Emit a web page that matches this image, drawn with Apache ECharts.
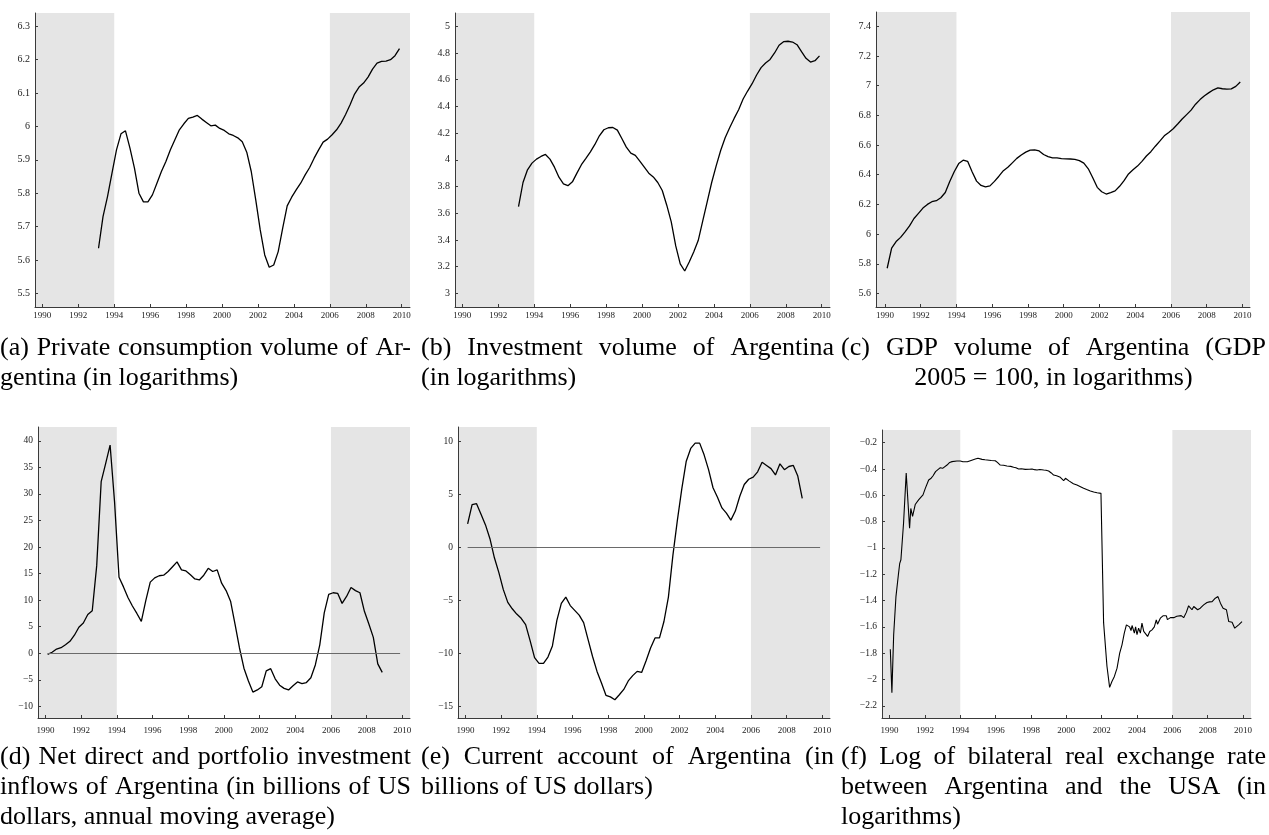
<!DOCTYPE html>
<html><head><meta charset="utf-8">
<script src="https://cdn.jsdelivr.net/npm/echarts@6/dist/echarts.min.js"></script>
<style>html,body{margin:0;padding:0;background:#fff;}#main{width:1269px;height:835px;}</style>
</head><body><div id="main"></div>
<script>
// ---------- DATA ----------
const xTickYears = [1990,1992,1994,1996,1998,2000,2002,2004,2006,2008,2010];
const shadedEnd1 = 1994;   // shaded: start of axis .. 1994
const shadedStart2 = 2006; // shaded: 2006 .. end of axis

// (a) private consumption, quarterly from 1993Q1
const consumptionStartYear = 1993;
const consumption = [5.635,5.73,5.79,5.86, 5.93,5.978,5.987,5.935, 5.875,5.80,5.774,5.774,
  5.795,5.83,5.865,5.895, 5.93,5.96,5.99,6.008, 6.024,6.028,6.033,6.022, 6.012,6.002,6.004,5.994,
  5.988,5.978,5.973,5.966, 5.954,5.923,5.865,5.78, 5.69,5.615,5.578,5.585, 5.625,5.695,5.762,5.788,
  5.81,5.83,5.855,5.877, 5.905,5.93,5.953,5.962, 5.975,5.99,6.01,6.036, 6.065,6.097,6.118,6.13,
  6.148,6.172,6.19,6.195, 6.196,6.2,6.212,6.233];
const yTicksA = [5.5,5.6,5.7,5.8,5.9,6,6.1,6.2,6.3];

// (b) investment, quarterly from 1993Q1
const investmentStartYear = 1993;
const investment = [3.65,3.83,3.925,3.975, 4.005,4.025,4.04,4.005, 3.945,3.87,3.82,3.806,
  3.835,3.9,3.963,4.01, 4.06,4.115,4.18,4.225, 4.24,4.242,4.222,4.16, 4.095,4.05,4.033,3.99,
  3.945,3.9,3.872,3.83, 3.77,3.66,3.535,3.355, 3.22,3.167,3.235,3.31, 3.395,3.54,3.685,3.83,
  3.955,4.07,4.165,4.24, 4.31,4.375,4.455,4.515, 4.57,4.635,4.69,4.725, 4.752,4.8,4.858,4.885,
  4.888,4.882,4.862,4.81, 4.76,4.732,4.742,4.778];
const yTicksB = [3,3.2,3.4,3.6,3.8,4,4.2,4.4,4.6,4.8,5];

// (c) GDP volume, quarterly from 1990Q1
const gdpStartYear = 1990;
const gdp = [5.77,5.905,5.95,5.978, 6.015,6.055,6.105,6.14, 6.175,6.2,6.218,6.225,
  6.245,6.28,6.355,6.42, 6.475,6.498,6.49,6.42, 6.357,6.328,6.318,6.325, 6.355,6.39,6.427,6.45,
  6.48,6.51,6.533,6.552, 6.566,6.568,6.56,6.536, 6.522,6.514,6.514,6.509, 6.507,6.506,6.504,6.495,
  6.478,6.44,6.38,6.315, 6.285,6.27,6.28,6.291, 6.322,6.36,6.405,6.433, 6.458,6.49,6.526,6.555,
  6.592,6.626,6.662,6.685, 6.71,6.742,6.775,6.805, 6.835,6.875,6.906,6.932, 6.953,6.972,6.985,6.979,
  6.976,6.978,6.995,7.025];
const yTicksC = [5.6,5.8,6,6.2,6.4,6.6,6.8,7,7.2,7.4];

// (d) net direct and portfolio investment inflows, quarterly from 1990Q1
const inflowsStartYear = 1990;
const inflows = [-0.2,0.2,0.8,1.05, 1.6,2.25,3.4,4.9, 5.7,7.3,8.0,16.5, 32.3,35.7,39.2,28.5,
  14.3,12.5,10.5,8.9, 7.5,6.0,9.9,13.4, 14.2,14.6,14.7,15.4, 16.3,17.2,15.7,15.5,
  14.8,14.0,13.8,14.7, 16.0,15.4,15.7,13.2, 11.8,9.8,5.5,1.0, -2.8,-5.2,-7.3,-6.9,
  -6.3,-3.3,-2.9,-4.8, -6.0,-6.6,-6.9,-6.1, -5.4,-5.7,-5.5,-4.6, -2.2,1.6,7.6,11.1,
  11.4,11.3,9.4,10.7, 12.4,11.8,11.4,7.9, 5.5,3.0,-2.0,-3.6];
const yTicksD = [-10,-5,0,5,10,15,20,25,30,35,40];

// (e) current account, quarterly from 1990Q1
const currentAccountStartYear = 1990;
const currentAccount = [2.2,4.0,4.1,3.1, 2.1,0.8,-1.0,-2.4, -4.0,-5.2,-5.8,-6.3, -6.7,-7.3,-8.8,-10.4,
  -10.95,-10.95,-10.35,-9.3, -6.9,-5.3,-4.7,-5.5, -5.95,-6.4,-7.1,-8.7, -10.3,-11.7,-12.8,-13.95,
  -14.1,-14.37,-13.9,-13.4, -12.6,-12.1,-11.7,-11.8, -10.7,-9.5,-8.55,-8.55, -7.0,-4.7,-0.8,2.5,
  5.5,8.1,9.3,9.8, 9.8,8.7,7.3,5.6, 4.7,3.7,3.2,2.55, 3.4,4.8,5.9,6.4,
  6.6,7.1,8.0,7.7, 7.4,6.8,7.85,7.3, 7.6,7.7,6.7,4.6];
const yTicksE = [-15,-10,-5,0,5,10];

// zero reference line span (d), (e)
const zeroLineFrom = 1990.125, zeroLineTo = 2009.875;

// (f) log bilateral real exchange rate (dates, values)
const rerYears = [1990.04,1990.13,1990.23,1990.36,1990.5,1990.57,1990.64,1990.79,1990.94,1991.13,1991.2,1991.3,1991.45,1991.64,1991.89,
  1992.02,1992.21,1992.35,1992.45,1992.6,1992.68,1992.87,1993.0,1993.09,1993.25,1993.4,1993.53,1993.81,1994.0,1994.15,1994.23,1994.4,1994.57,1994.85,
  1995.0,1995.09,1995.23,1995.4,1995.51,1995.75,1995.98,1996.1,1996.26,1996.45,1996.64,1996.85,1997.02,1997.15,1997.3,1997.45,1997.55,1997.68,1997.9,
  1998.06,1998.2,1998.34,1998.5,1998.72,1998.85,1999.0,1999.15,1999.28,1999.45,1999.66,1999.75,1999.85,1999.95,2000.04,2000.15,2000.23,2000.4,2000.6,2000.8,2000.98,
  2001.15,2001.36,2001.55,2001.74,2001.96,2002.04,2002.11,2002.3,2002.45,2002.58,2002.72,2002.87,2003.02,2003.15,2003.28,2003.4,2003.47,2003.58,2003.66,2003.72,2003.77,2003.85,2003.92,
  2004.0,2004.09,2004.19,2004.28,2004.38,2004.47,2004.6,2004.72,2004.85,2004.98,2005.09,2005.16,2005.23,2005.32,2005.47,2005.66,2005.72,2005.79,2005.89,
  2006.08,2006.25,2006.36,2006.5,2006.64,2006.79,2006.92,2007.02,2007.11,2007.21,2007.3,2007.43,2007.58,2007.77,2007.96,2008.1,2008.25,2008.43,2008.58,2008.72,2008.87,
  2009.06,2009.19,2009.38,2009.53,2009.75,2009.94];
const rerValues = [-1.77,-2.10,-1.66,-1.37,-1.20,-1.12,-1.09,-0.81,-0.43,-0.85,-0.70,-0.76,-0.67,-0.635,-0.597,
  -0.547,-0.484,-0.47,-0.453,-0.42,-0.408,-0.39,-0.395,-0.40,-0.37,-0.35,-0.344,-0.339,-0.339,-0.345,-0.352,-0.345,-0.337,-0.324,
  -0.318,-0.312,-0.327,-0.33,-0.332,-0.335,-0.337,-0.35,-0.37,-0.372,-0.377,-0.38,-0.387,-0.39,-0.40,-0.398,-0.395,-0.403,-0.402,
  -0.40,-0.405,-0.408,-0.404,-0.408,-0.41,-0.415,-0.43,-0.446,-0.452,-0.463,-0.475,-0.489,-0.47,-0.471,-0.49,-0.504,-0.512,-0.522,-0.535,-0.547,
  -0.556,-0.567,-0.575,-0.58,-0.585,-0.59,-1.57,-1.90,-2.06,-2.015,-1.977,-1.914,-1.80,-1.737,-1.648,-1.585,-1.59,-1.60,-1.628,-1.59,-1.585,-1.648,-1.60,
  -1.66,-1.61,-1.648,-1.572,-1.635,-1.648,-1.673,-1.635,-1.623,-1.60,-1.547,-1.58,-1.572,-1.534,-1.516,-1.516,-1.545,-1.547,-1.53,
  -1.53,-1.52,-1.52,-1.515,-1.53,-1.49,-1.44,-1.433,-1.47,-1.445,-1.44,-1.47,-1.458,-1.433,-1.415,-1.41,-1.408,-1.382,-1.37,-1.42,-1.458,
  -1.47,-1.56,-1.565,-1.61,-1.585,-1.56];
const yTicksF = [-2.2,-2,-1.8,-1.6,-1.4,-1.2,-1,-0.8,-0.6,-0.4,-0.2];

const captionA = ["(a) Private consumption volume of Ar-", "gentina (in logarithms)"];
const captionB = ["(b) Investment volume of Argentina", "(in logarithms)"];
const captionC = ["(c) GDP volume of Argentina (GDP", "2005 = 100, in logarithms)"];
const captionD = ["(d) Net direct and portfolio investment", "inflows of Argentina (in billions of US", "dollars, annual moving average)"];
const captionE = ["(e) Current account of Argentina (in", "billions of US dollars)"];
const captionF = ["(f) Log of bilateral real exchange rate", "between Argentina and the USA (in", "logarithms)"];

// ---------- LAYOUT ----------
const FONT = '"Liberation Serif", "Times New Roman", serif';
function quarterly(start, vals){ return vals.map((v,i)=>[start + (i+0.5)/4, v]); }
function pairs(xs, ys){ return xs.map((x,i)=>[x, ys[i]]); }

const panels = [
  {grid:{left:35,top:13,width:375,height:294}, xr:[1989.59,2010.46], yr:[5.459,6.34], yt:yTicksA, data:quarterly(consumptionStartYear,consumption), xm:4.5, yfs:10},
  {grid:{left:455,top:13,width:375,height:294}, xr:[1989.59,2010.46], yr:[2.8975,5.0995], yt:yTicksB, data:quarterly(investmentStartYear,investment), xm:4.5, yfs:10},
  {grid:{left:876,top:12,width:374,height:295}, xr:[1989.5,2010.42], yr:[5.509,7.496], yt:yTicksC, data:quarterly(gdpStartYear,gdp), xm:4.5, yfs:10},
  {grid:{left:38,top:427,width:372,height:291}, xr:[1989.585,2010.43], yr:[-12.18,42.6], yt:yTicksD, data:quarterly(inflowsStartYear,inflows), xm:8, yfs:9.5, zero:true},
  {grid:{left:458,top:427,width:372,height:291}, xr:[1989.585,2010.43], yr:[-16.09,11.32], yt:yTicksE, data:quarterly(currentAccountStartYear,currentAccount), xm:8, yfs:9.5, zero:true},
  {grid:{left:882,top:430,width:369,height:288}, xr:[1989.57,2010.45], yr:[-2.293,-0.1035], yt:yTicksF, data:pairs(rerYears,rerValues), xm:8, yfs:9.5, lw:1.1}
];

const fmt = v => { const s = String(+(+v).toFixed(2)); return s.replace('-', '\u2212'); };
const axisColor = '#3a3a3a';
const grids=[], xAxes=[], yAxes=[], series=[];
panels.forEach((p,i)=>{
  grids.push(Object.assign({containLabel:false}, p.grid));
  xAxes.push({type:'value', gridIndex:i, min:p.xr[0], max:p.xr[1], z:5,
    axisLine:{show:true, onZero:false, lineStyle:{color:axisColor,width:1}},
    axisTick:{show:true, inside:true, length:3, customValues:xTickYears, lineStyle:{color:axisColor}},
    axisLabel:{show:true, customValues:xTickYears, fontFamily:FONT, fontSize:9, color:'#222', margin:p.xm, formatter:v=>String(Math.round(v))},
    splitLine:{show:false}});
  yAxes.push({type:'value', gridIndex:i, min:p.yr[0], max:p.yr[1], z:5,
    axisLine:{show:true, onZero:false, lineStyle:{color:axisColor,width:1}},
    axisTick:{show:true, inside:true, length:3, customValues:p.yt, lineStyle:{color:axisColor}},
    axisLabel:{show:true, customValues:p.yt, fontFamily:FONT, fontSize:p.yfs, color:'#222', margin:5, formatter:fmt},
    splitLine:{show:false}});
  const s = {type:'line', xAxisIndex:i, yAxisIndex:i, data:p.data, showSymbol:false, symbol:'none',
    lineStyle:{color:'#000', width:p.lw||1.3}, z:3, silent:true,
    markArea:{silent:true, itemStyle:{color:'#e5e5e5'}, data:[
      [{xAxis:p.xr[0]},{xAxis:shadedEnd1}],
      [{xAxis:shadedStart2},{xAxis:p.xr[1]}]
    ]}};
  if (p.zero) {
    s.markLine = {silent:true, symbol:['none','none'], label:{show:false},
      lineStyle:{color:'#6a6a6a', width:1, type:'solid'},
      data:[[{coord:[zeroLineFrom,0]},{coord:[zeroLineTo,0]}]]};
  }
  series.push(s);
});

// captions (justified except last line)
const capFontSize = 26;
const capFont = capFontSize + 'px ' + FONT;
const ctx = document.createElement('canvas').getContext('2d');
ctx.font = capFont;
const capBlocks = [
  {lines:captionA, x:0, w:411, y:[348,378]},
  {lines:captionB, x:421, w:413, y:[348,378]},
  {lines:captionC, x:841, w:425, y:[348,378], centerLast:true},
  {lines:captionD, x:0, w:411, y:[757,787,817]},
  {lines:captionE, x:421, w:413, y:[757,787]},
  {lines:captionF, x:841, w:425, y:[757,787,817]}
];
const graphics=[];
capBlocks.forEach(b=>{
  b.lines.forEach((line,li)=>{
    const last = li===b.lines.length-1;
    if (last) {
      const tw = ctx.measureText(line).width;
      graphics.push({type:'text', x: b.centerLast ? b.x + (b.w - tw)/2 : b.x, y:b.y[li], silent:true,
        style:{text:line, font:capFont, fill:'#000', align:'left', verticalAlign:'middle'}});
    } else {
      const words = line.split(' ');
      const widths = words.map(w=>ctx.measureText(w).width);
      const total = widths.reduce((a,c)=>a+c,0);
      const gap = (b.w - total)/(words.length-1);
      let cx = b.x;
      words.forEach((w,wi)=>{
        graphics.push({type:'text', x:cx, y:b.y[li], silent:true,
          style:{text:w, font:capFont, fill:'#000', align:'left', verticalAlign:'middle'}});
        cx += widths[wi] + gap;
      });
    }
  });
});

const chart = echarts.init(document.getElementById('main'), null, {renderer:'canvas'});
chart.setOption({animation:false, backgroundColor:'#fff', grid:grids, xAxis:xAxes, yAxis:yAxes, series:series, graphic:graphics});
</script></body></html>
